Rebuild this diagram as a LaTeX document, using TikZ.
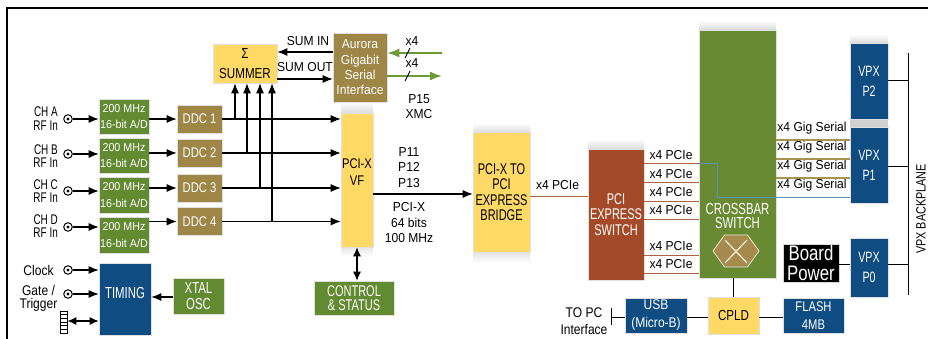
\documentclass[tikz,border=0pt]{standalone}
\usepackage{fontspec}
\setmainfont{Liberation Sans}[FakeStretch=0.93]
\newfontfamily\fA{Liberation Sans}[FakeStretch=0.86]
\newfontfamily\fB{Liberation Sans}[FakeStretch=0.8]
\newfontfamily\fC{Liberation Sans}[FakeStretch=0.71]
\usetikzlibrary{arrows.meta}
\definecolor{adgreen}{HTML}{628A30}
\definecolor{xbgreen}{HTML}{688A32}
\definecolor{ddctan}{HTML}{9E8646}
\definecolor{hextan}{HTML}{A68C4C}
\definecolor{boxyellow}{HTML}{FFD966}
\definecolor{pcierust}{HTML}{A54A28}
\definecolor{vpxblue}{HTML}{0F4C81}
\definecolor{pcieline}{HTML}{B0613F}
\definecolor{gigline}{HTML}{A8924F}
\definecolor{linkblue}{HTML}{5A8FC4}
\definecolor{xmcgreen}{HTML}{6E9A35}
\newcommand{\fsz}[2]{\fontsize{#1}{#2}\selectfont}
% soft grey band fading towards the top / towards the bottom
\newcommand{\upshade}[4]{\shade[top color=white, bottom color=black!14] (#1,#3) rectangle (#2,#4);}
\newcommand{\downshade}[4]{\shade[top color=black!10, bottom color=white] (#1,#3) rectangle (#2,#4);}

\begin{document}
\begin{tikzpicture}[x=1pt,y=-1pt,
  every node/.style={inner sep=0pt, align=center, font=\fsz{12.5}{15}},
  box/.style={rectangle, draw=black!12, line width=0.6pt},
  grnbox/.style={box, fill=adgreen, text=white},
  tanbox/.style={box, fill=ddctan, text=white},
  yelbox/.style={box, fill=boxyellow, text=black},
  blubox/.style={box, fill=vpxblue, text=white},
  lbl/.style={font=\fsz{13}{15.5}},
  side/.style={font=\fA\fsz{14}{13}},
  chan/.style={align=right, anchor=east, font=\fC\fsz{14}{13.5}},
  arr/.style={line width=1.1pt, -{Latex[length=10pt,width=8pt]}},
  darr/.style={line width=1.1pt, {Latex[length=9pt,width=8pt]}-{Latex[length=9pt,width=8pt]}},
  garr/.style={line width=1.8pt, xmcgreen, -{Latex[length=12pt,width=9pt]}},
  conn/.style={circle, draw, line width=1pt, minimum size=8.5pt,
    path picture={\fill (path picture bounding box.center) circle (1.7pt);}},
  wire/.style={line width=1pt},
  pline/.style={line width=1pt, pcieline},
  gline/.style={line width=1.3pt, gigline},
  bline/.style={line width=1pt, linkblue}
]
\useasboundingbox (0,0) rectangle (928,339);

% outer frame
\draw[line width=1.3pt] (7,339) -- (7,8) -- (928,8);

% soft shadows around the tall blocks
\upshade{341}{373}{102}{113}
\downshade{341}{373}{247}{256}
\upshade{473}{530}{123}{133}
\downshade{473}{530}{253}{263}
\upshade{588}{644}{139}{149}
\upshade{699}{776}{20}{30}
\upshade{850}{888}{34}{43}
\fill[black!18] (850,119) rectangle (888,127);

% ---------------- input channels ----------------
\node[grnbox, minimum width=50pt, minimum height=35pt, font=\fsz{11.5}{16.5}] (adA) at (124,116.5) {200 MHz\\16-bit A/D};
\node[grnbox, minimum width=50pt, minimum height=35pt, font=\fsz{11.5}{16.5}] (adB) at (124,155.5) {200 MHz\\16-bit A/D};
\node[grnbox, minimum width=50pt, minimum height=36pt, font=\fsz{11.5}{16.5}] (adC) at (124,195) {200 MHz\\16-bit A/D};
\node[grnbox, minimum width=50pt, minimum height=36pt, font=\fsz{11.5}{16.5}] (adD) at (124,235) {200 MHz\\16-bit A/D};

\node[tanbox, minimum width=45pt, minimum height=28pt, font=\fB\fsz{14}{15}] (ddc1) at (199.5,119) {DDC 1};
\node[tanbox, minimum width=45pt, minimum height=28pt, font=\fB\fsz{14}{15}] (ddc2) at (199.5,153) {DDC 2};
\node[tanbox, minimum width=45pt, minimum height=28pt, font=\fB\fsz{14}{15}] (ddc3) at (199.5,188) {DDC 3};
\node[tanbox, minimum width=45pt, minimum height=28pt, font=\fB\fsz{14}{15}] (ddc4) at (199.5,221.5) {DDC 4};

\node[chan] (chA) at (58,118.5) {CH A\\RF In};
\node[chan] (chB) at (58,156) {CH B\\RF In};
\node[chan] (chC) at (58,191) {CH C\\RF In};
\node[chan] (chD) at (58,226) {CH D\\RF In};

\node[conn] (cA) at (68,119) {};
\node[conn] (cB) at (68,154) {};
\node[conn] (cC) at (68,191) {};
\node[conn] (cD) at (68,227) {};

\draw[arr] (cA) -- (cA -| adA.west);
\draw[arr] (cB) -- (cB -| adB.west);
\draw[arr] (cC) -- (cC -| adC.west);
\draw[arr] (cD) -- (cD -| adD.west);

\draw[arr] (adA.east |- ddc1.west) -- (ddc1.west);
\draw[arr] (adB.east |- ddc2.west) -- (ddc2.west);
\draw[arr] (adC.east |- ddc3.west) -- (ddc3.west);
\draw[arr] (adD.east |- ddc4.west) -- (ddc4.west);

% ---------------- summer / aurora ----------------
\node[yelbox, minimum width=64pt, minimum height=39pt, font=\fB\fsz{14.5}{20}] (summer) at (245,63.5) {Σ\\SUMMER};
\node[tanbox, minimum width=54pt, minimum height=69pt, font=\fsz{13}{15.3}] (aurora) at (360,67.5) {Aurora\\Gigabit\\Serial\\Interface};

\draw[arr] ([yshift=15.5pt]aurora.west) -- ([yshift=15.5pt]aurora.west -| summer.east);
\draw[arr] ([yshift=-11.5pt]aurora.west -| summer.east) -- ([yshift=-11.5pt]aurora.west);
\node[lbl] (sumin) at (308,41.5) {SUM IN};
\node[lbl] (sumout) at (305,67.5) {SUM OUT};

\coordinate (xin) at (442,53);
\coordinate (xout) at (442,76);
\draw[garr] (xin) -- (xin -| aurora.east);
\draw[garr] (xout -| aurora.east) -- (xout);
\draw[line width=0.9pt] (405,58) -- (410,48);
\draw[line width=0.9pt] (405,81) -- (410,71);
\node[lbl] (x4in) at (412,41) {x4};
\node[lbl] (x4out) at (412,63) {x4};
\node[lbl, font=\fsz{13}{15}] (xmc) at (419,107) {P15\\XMC};

% ---------------- PCI-X VF ----------------
\node[yelbox, minimum width=32pt, minimum height=134pt] (pcix) at (357,180) {};
\node[font=\fB\fsz{14}{17}] (pcixtxt) at (357,172.5) {PCI-X\\VF};

\draw[arr] (ddc1.east) -- (ddc1.east -| pcix.west);
\draw[arr] (ddc2.east) -- (ddc2.east -| pcix.west);
\draw[arr] (ddc3.east) -- (ddc3.east -| pcix.west);
\draw[arr] (ddc4.east) -- (ddc4.east -| pcix.west);

\coordinate (v1) at (235,0);
\coordinate (v2) at (247,0);
\coordinate (v3) at (260,0);
\coordinate (v4) at (272,0);
\draw[arr] (v1 |- ddc1.east) -- (v1 |- summer.south);
\draw[arr] (v2 |- ddc2.east) -- (v2 |- summer.south);
\draw[arr] (v3 |- ddc3.east) -- (v3 |- summer.south);
\draw[arr] (v4 |- ddc4.east) -- (v4 |- summer.south);

\node[grnbox, minimum width=80pt, minimum height=34pt, font=\fC\fsz{15.5}{14.5}] (control) at (354,298) {CONTROL\\\& STATUS};
\draw[darr] (pcix.south) -- (pcix.south |- control.north);

% ---------------- bridge ----------------
\node[yelbox, minimum width=57pt, minimum height=120pt, font=\fC\fsz{15.5}{15.5}] (bridge) at (501.5,192) {PCI-X TO\\PCI\\EXPRESS\\BRIDGE};
\coordinate (pb) at (0,194);
\draw[arr] (pcix.east |- pb) -- (bridge.west |- pb);
\node[lbl] (pnums) at (409,167.5) {P11\\P12\\P13};
\node[lbl] (pcixbus) at (409,223) {PCI-X\\64 bits\\100 MHz};

% ---------------- PCI express switch ----------------
\node[box, fill=pcierust, text=white, minimum width=56pt, minimum height=131pt, font=\fC\fsz{15.5}{15.5}] (pcisw) at (616,214.5) {PCI\\EXPRESS\\SWITCH};
\coordinate (bs) at (0,196);
\draw[pline] (bridge.east |- bs) -- (pcisw.west |- bs);
\node[lbl] (bslbl) at (557.5,185) {x4 PCIe};

% ---------------- crossbar ----------------
\node[box, fill=xbgreen, minimum width=77pt, minimum height=248pt] (xbar) at (737.5,154) {};
\node[text=white, font=\fC\fsz{16}{14.5}] (xbartxt) at (737.5,216) {CROSSBAR\\SWITCH};
\filldraw[fill=hextan, draw=white!80!hextan, line width=0.8pt]
  (713,251) -- (724.5,235) -- (747.5,235) -- (759,251) -- (747.5,267) -- (724.5,267) -- cycle;
\draw[white, line width=1pt] (725,240) -- (747,263) (747,240) -- (725,263);

\foreach \i/\yy in {1/164,2/183,3/201,4/219,5/255,6/273}{
  \coordinate (pl\i) at (0,\yy);
  \draw[pline] (pcisw.east |- pl\i) -- (xbar.west |- pl\i);
  \node[lbl] (plab\i) at (671,\yy-9) {x4 PCIe};
}

% ---------------- VPX connectors ----------------
\node[blubox, minimum width=38pt, minimum height=76pt, font=\fC\fsz{15}{20}] (vpx2) at (869,81) {VPX\\P2};
\node[blubox, minimum width=38pt, minimum height=76pt, font=\fC\fsz{15}{20}] (vpx1) at (869,165) {VPX\\P1};
\node[blubox, minimum width=38pt, minimum height=59pt, font=\fC\fsz{15}{20}] (vpx0) at (869,267.5) {VPX\\P0};

\foreach \i/\yy in {1/140,2/159,3/178,4/197}{
  \coordinate (gl\i) at (0,\yy);
  \node[lbl] (glab\i) at (812,\yy-12) {x4 Gig Serial};
}
\draw[gline] (xbar.east |- gl1) -- (vpx1.west |- gl1);
\draw[gline] (xbar.east |- gl2) -- (vpx1.west |- gl2);
\draw[gline] (xbar.east |- gl3) -- (vpx1.west |- gl3);
\coordinate (bk) at (717,0);
\draw[bline] (xbar.west |- pl1) -- (bk |- pl1) -- (bk |- gl4) -- (vpx1.west |- gl4);

\node[rectangle, fill=black, draw=black!15, line width=0.6pt, text=white, minimum width=56pt, minimum height=38pt, font=\fB\fsz{21}{20}] (power) at (811,263) {Board\\Power};

\coordinate (bpt) at (908,53);
\coordinate (bpb) at (908,295);
\coordinate (p1y) at (0,167);
\coordinate (p0y) at (0,264);
\draw[wire] (bpt) -- (bpb);
\draw[wire] (vpx2.east) -- (vpx2.east -| bpt);
\draw[wire] (vpx1.east |- p1y) -- (bpt |- p1y);
\draw[wire] (vpx0.east |- p0y) -- (bpt |- p0y);
\draw[wire] (power.east |- p0y) -- (vpx0.west |- p0y);
\node[rotate=90, font=\fB\fsz{13.5}{15}] (bplbl) at (921,209) {VPX BACKPLANE};

% ---------------- USB / CPLD / FLASH ----------------
\node[blubox, minimum width=62pt, minimum height=35pt, font=\fA\fsz{14}{18}] (usb) at (656,315.5) {USB\\(Micro-B)};
\node[yelbox, minimum width=51pt, minimum height=37pt, font=\fB\fsz{14.5}{15}] (cpld) at (733.5,315.5) {CPLD};
\node[blubox, minimum width=61pt, minimum height=35pt, font=\fB\fsz{14}{18}] (flash) at (813.5,315.5) {FLASH\\4MB};
\coordinate (bus) at (0,317);
\draw[wire] (usb.east |- bus) -- (cpld.west |- bus);
\draw[wire] (cpld.east |- bus) -- (flash.west |- bus);
\draw[wire] (cpld.north |- xbar.south) -- (cpld.north);
\coordinate (brk) at (611,317);
\coordinate (brktop) at (611,308);
\coordinate (brkbot) at (611,325);
\draw[wire] (brktop) -- (brkbot);
\draw[wire] (brk) -- (brk -| usb.west);
\node[side, font=\fA\fsz{14}{17}] (topc) at (584,321) {TO PC\\Interface};

% ---------------- timing ----------------
\node[blubox, minimum width=52pt, minimum height=72pt] (timing) at (125,299) {};
\node[text=white, font=\fC\fsz{16}{16}] (timtxt) at (125,293) {TIMING};
\node[grnbox, minimum width=51pt, minimum height=36pt, font=\fC\fsz{16}{16.5}] (xtal) at (198.5,296) {XTAL\\OSC};
\coordinate (osc) at (0,297);
\draw[arr] (xtal.west |- osc) -- (timing.east |- osc);

\node[side] (clk) at (38.5,270) {Clock};
\node[side] (gate) at (38.5,298.5) {Gate /\\Trigger};
\node[conn] (cclk) at (68,270) {};
\node[conn] (cgate) at (68,294) {};
\draw[arr] (cclk) -- (cclk -| timing.west);
\draw[arr] (cgate) -- (cgate -| timing.west);

\node[rectangle, draw, line width=0.8pt, fill=white, minimum width=7pt, minimum height=22pt,
  path picture={\foreach \k in {1,...,5}{\draw[line width=0.6pt] ([yshift=-\k*3.67pt]path picture bounding box.north west) -- ([yshift=-\k*3.67pt]path picture bounding box.north east);}}] (ladder) at (63.5,322) {};
\coordinate (dio) at (0,321);
\draw[darr] (ladder.east |- dio) -- (timing.west |- dio);

\end{tikzpicture}
\end{document}
